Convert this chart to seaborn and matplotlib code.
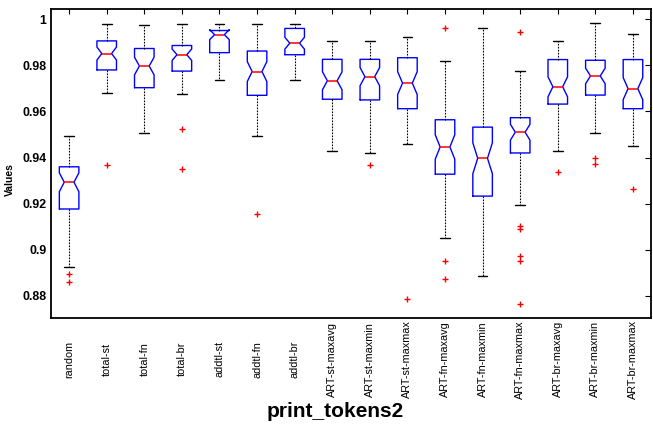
import matplotlib
matplotlib.use("Agg")
import matplotlib.pyplot as plt
import numpy as np
import pandas as pd
import seaborn as sns

# five-number summaries (MATLAB style notched boxplot)
methods = ["random", "total-st", "total-fn", "total-br", "addtl-st", "addtl-fn",
           "addtl-br", "ART-st-maxavg", "ART-st-maxmin", "ART-st-maxmax",
           "ART-fn-maxavg", "ART-fn-maxmin", "ART-fn-maxmax", "ART-br-maxavg",
           "ART-br-maxmin", "ART-br-maxmax"]
lo_whisker = [0.8926, 0.9680, 0.9507, 0.9677, 0.9736, 0.9493, 0.9736, 0.9429,
              0.9420, 0.9461, 0.9051, 0.8887, 0.9193, 0.9429, 0.9507, 0.9452]
q1 = [0.9177, 0.9780, 0.9703, 0.9775, 0.9855, 0.9670, 0.9846, 0.9653,
      0.9650, 0.9612, 0.9328, 0.9233, 0.9420, 0.9632, 0.9671, 0.9612]
median = [0.9293, 0.9851, 0.9797, 0.9846, 0.9933, 0.9773, 0.9896, 0.9733,
          0.9751, 0.9723, 0.9446, 0.9397, 0.9510, 0.9707, 0.9754, 0.9699]
q3 = [0.9360, 0.9906, 0.9873, 0.9886, 0.9951, 0.9862, 0.9960, 0.9826,
      0.9826, 0.9833, 0.9564, 0.9532, 0.9573, 0.9825, 0.9822, 0.9825]
hi_whisker = [0.9493, 0.9978, 0.9975, 0.9981, 0.9981, 0.9981, 0.9981, 0.9906,
              0.9906, 0.9925, 0.9819, 0.9962, 0.9777, 0.9906, 0.9984, 0.9935]
outliers = [[0.8896, 0.8860], [0.9367], [], [0.9522, 0.9352], [], [0.9155], [],
            [], [0.9367], [0.8787], [0.9962, 0.8952, 0.8873], [],
            [0.9945, 0.9103, 0.9090, 0.8973, 0.8951, 0.8765], [0.9338],
            [0.9397, 0.9373], [0.9265]]
n_runs = 49  # notch width in the reference matches ~50 runs per method

# expand each summary into a sample whose quartiles/whiskers reproduce it
rows = []
m = (n_runs - 1) // 4
for i, name in enumerate(methods):
    low = sorted(v for v in outliers[i] if v < q1[i])
    high = sorted(v for v in outliers[i] if v > q3[i])
    below = low + [lo_whisker[i]]
    above = [hi_whisker[i]] + high
    vals = (below + [q1[i]] * (m - len(below) + 1) + [median[i]] * (2 * m - 1)
            + [q3[i]] * (m - len(above) + 1) + above)
    rows += [(name, v) for v in sorted(vals)]
df = pd.DataFrame(rows, columns=["method", "value"])

sns.set_theme(style="white")
plt.rcParams["font.family"] = ["Liberation Sans", "DejaVu Sans"]
plt.rcParams["axes.edgecolor"] = "black"
plt.rcParams["axes.linewidth"] = 1.3
plt.rcParams["text.color"] = "black"
plt.rcParams["axes.labelcolor"] = "black"

fig = plt.figure(figsize=(6.53, 4.24), dpi=100)
ax = fig.add_axes([50.7 / 653, 1 - 318.3 / 424, 600.3 / 653, 309 / 424])

sns.boxplot(data=df, x="method", y="value", order=methods, ax=ax,
            fill=False, color="blue", width=0.52, notch=True, linewidth=1,
            whiskerprops=dict(color="black", linestyle=(0, (1.5, 1.2)), linewidth=0.8),
            capprops=dict(color="black", linewidth=1),
            medianprops=dict(color="red", linewidth=1.1),
            flierprops=dict(marker="+", markeredgecolor="red", markerfacecolor="red",
                            markersize=4.5, markeredgewidth=1))

ax.set_xlim(-0.49, len(methods) - 0.52)
ax.set_ylim(0.8703, 1.0043)
ax.set_yticks([0.88, 0.9, 0.92, 0.94, 0.96, 0.98, 1])
ax.set_yticklabels(["0.88", "0.9", "0.92", "0.94", "0.96", "0.98", "1"],
                   fontsize=8.9, fontweight="bold")
ax.set_xticks(range(len(methods)))
ax.set_xticklabels(methods, rotation=90, fontsize=7.8, va="center", ha="center")
ax.tick_params(axis="x", direction="in", length=3.5, width=0.8, top=True, pad=29.5,
               colors="black")
ax.tick_params(axis="y", direction="in", length=4, width=0.8, right=True, pad=3,
               colors="black")
for s in ax.spines.values():
    s.set_visible(True)
    s.set_color("black")

ax.set_ylabel("Values", fontsize=7.5, fontweight="bold")
ax.yaxis.set_label_coords(-0.059, 0.4476)
ax.set_xlabel("print_tokens2", fontsize=15, fontweight="bold", va="baseline")
ax.xaxis.set_label_coords(0.4736, -0.3194)

fig.savefig("out.png", dpi=100)
